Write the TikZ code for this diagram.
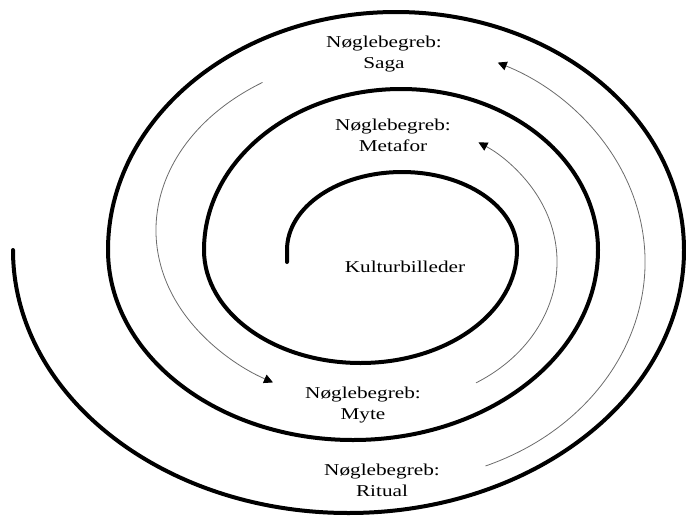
\documentclass[tikz,border=0pt]{standalone}
\usepackage{fontspec}
\setmainfont{Liberation Serif}
\usetikzlibrary{arrows.meta}
\tikzset{
  spiralline/.style={line width=4pt, line cap=round, black},
  thinarrow/.style={line width=0.8pt, draw=black!58, -{Triangle[length=9pt,width=9pt,color=black]}},
  lbl/.style={inner sep=0pt, anchor=north, align=center, xscale=1.28,
    font=\fontsize{16.6}{21}\selectfont},
}
\begin{document}
\begin{tikzpicture}[x=1pt,y=1pt]
\useasboundingbox (0,0) rectangle (686,-517);
% spiral
\coordinate (spiralstart) at (287,-262);
\draw[spiralline] (spiralstart) -- (287,-250)
  arc[start angle=180,end angle=0,x radius=115pt,y radius=78pt]
  arc[start angle=0,end angle=-180,x radius=156.5pt,y radius=113pt]
  arc[start angle=180,end angle=0,x radius=197pt,y radius=161pt]
  arc[start angle=0,end angle=-180,x radius=245pt,y radius=190pt]
  arc[start angle=180,end angle=0,x radius=288pt,y radius=238pt]
  arc[start angle=0,end angle=-180,x radius=335.5pt,y radius=263pt];
% thin arrows
\coordinate (c1) at (390,-262);
\coordinate (c3) at (390,-230);
\draw[thinarrow] (c1) ++(-68:255pt and 220pt)
  arc[start angle=-68,end angle=65,x radius=255pt,y radius=220pt];
\draw[thinarrow] (c1) ++(-59:167pt and 141pt)
  arc[start angle=-59,end angle=58,x radius=167pt,y radius=141pt];
\draw[thinarrow] (c3) ++(123:234pt and 176pt)
  arc[start angle=123,end angle=240,x radius=234pt,y radius=176pt];
% labels
\node[lbl] (saga) at (384,-35.7) {Nøglebegreb:\\Saga};
\node[lbl] (metafor) at (393,-119) {Nøglebegreb:\\Metafor};
\node[lbl, anchor=base] (kultur) at (405,-272) {Kulturbilleder};
\node[lbl] (myte) at (363,-386.7) {Nøglebegreb:\\Myte};
\node[lbl] (ritual) at (382,-463.7) {Nøglebegreb:\\Ritual};
\end{tikzpicture}
\end{document}
